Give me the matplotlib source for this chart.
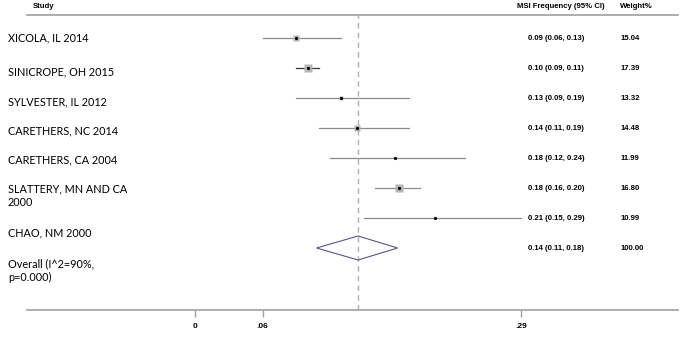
import matplotlib
matplotlib.use("Agg")
import matplotlib.pyplot as plt
import matplotlib.transforms as mtransforms
import numpy as np

studies = ["XICOLA, IL 2014", "SINICROPE, OH 2015", "SYLVESTER, IL 2012",
           "CARETHERS, NC 2014", "CARETHERS, CA 2004", "SLATTERY, MN AND CA\n2000",
           "CHAO, NM 2000", "Overall (I^2=90%,\np=0.000)"]
est = [0.09, 0.10, 0.13, 0.144, 0.178, 0.181, 0.213]
lo = [0.06, 0.09, 0.09, 0.11, 0.12, 0.16, 0.15]
hi = [0.13, 0.11, 0.19, 0.19, 0.24, 0.20, 0.29]
weights = [15.04, 17.39, 13.32, 14.48, 11.99, 16.80, 10.99]
overall_est, overall_lo, overall_hi = 0.145, 0.108, 0.18
ci_text = ["0.09 (0.06, 0.13)", "0.10 (0.09, 0.11)", "0.13 (0.09, 0.19)",
           "0.14 (0.11, 0.19)", "0.18 (0.12, 0.24)", "0.18 (0.16, 0.20)",
           "0.21 (0.15, 0.29)", "0.14 (0.11, 0.18)"]
weight_text = ["15.04", "17.39", "13.32", "14.48", "11.99", "16.80", "10.99", "100.00"]
ticks = [0, 0.06, 0.29]
tick_labels = ["0", ".06", ".29"]
# label rows are a bit off the marker rows in the original
label_rows = [0, 1.13, 2.13, 3.1, 4.07, 5.27, 6.5, 7.75]

W, H = 700, 348
fig = plt.figure(figsize=(W / 100, H / 100), dpi=100)
ax = fig.add_axes([27 / W, 38 / H, 651 / W, 295 / H])
ax.set_xlim((27 - 195) / 1125, (678 - 195) / 1125)
ax.set_ylim((310 - 38) / 30, (15 - 38) / 30)

narrow = ["Liberation Sans", "DejaVu Sans"]
body = ["Lato", "DejaVu Sans"]
small = 5.6

for s in ["left", "right"]:
    ax.spines[s].set_visible(False)
for s in ["top", "bottom"]:
    ax.spines[s].set_color("#a0a0a0")
    ax.spines[s].set_linewidth(1.2)
ax.set_yticks([])
ax.set_xticks(ticks)
ax.set_xticklabels(tick_labels, fontfamily=narrow, fontweight="bold", fontsize=6)
ax.tick_params(axis="x", length=5, color="#a0a0a0", width=1, pad=4)

rows = np.arange(len(est))
ax.axvline(overall_est, color="#b0b0b0", lw=1, ls=(0, (4, 3)))

for i in rows:
    col = "#333333" if i == 1 else "#8c8c8c"
    ax.plot([lo[i], hi[i]], [i, i], color=col, lw=0.9, zorder=2)
    side = max(1.15 * (weights[i] - 10), 0.5) * 0.72
    ax.plot(est[i], i, marker="s", ms=side, color="#b4b4b4", mec="none", zorder=3)
    ax.plot(est[i], i, marker="o", ms=2.3, color="black", mec="none", zorder=4)

yo = len(est)
ax.fill([overall_lo, overall_est, overall_hi, overall_est, overall_lo],
        [yo, yo - 0.4, yo, yo + 0.4, yo], facecolor="none", edgecolor="#55558f", lw=0.8, zorder=3)

tr = mtransforms.blended_transform_factory(fig.transFigure, ax.transData)
for r, s in zip(label_rows, studies):
    ax.text(8 / W, r, s, transform=tr, fontsize=7.8, fontfamily=body,
            va="center", ha="left", linespacing=1.3, clip_on=False)

for i, (c, w) in enumerate(zip(ci_text, weight_text)):
    ax.text(528 / W, i + 0.03, c, transform=tr, fontsize=small, fontfamily=narrow,
            fontweight="bold", va="center", ha="left", clip_on=False)
    ax.text(621 / W, i + 0.03, w, transform=tr, fontsize=small, fontfamily=narrow,
            fontweight="bold", va="center", ha="left", clip_on=False)

fig.text(33 / W, 1 - 6 / H, "Study", fontsize=small, fontfamily=narrow, fontweight="bold", va="center")
fig.text(517 / W, 1 - 6 / H, "MSI Frequency (95% CI)", fontsize=small, fontfamily=narrow,
         fontweight="bold", va="center")
fig.text(620 / W, 1 - 6 / H, "Weight%", fontsize=small, fontfamily=narrow, fontweight="bold", va="center")

fig.savefig("out.png", dpi=100)
